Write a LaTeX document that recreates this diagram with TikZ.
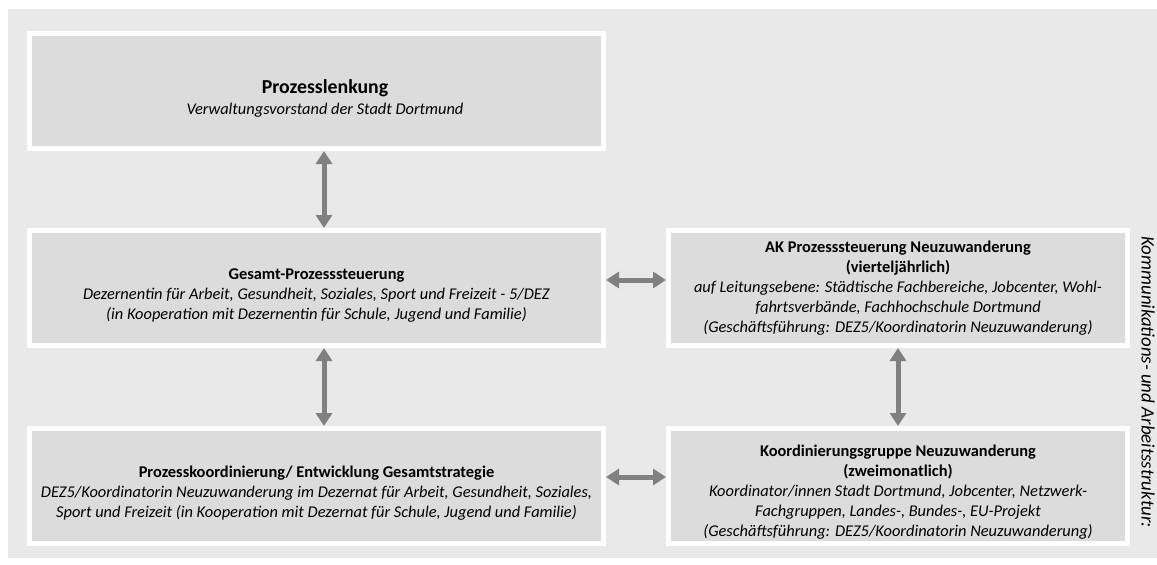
\documentclass[tikz,border=0pt]{standalone}
\usepackage{fontspec}
\setmainfont{Carlito}
\usetikzlibrary{arrows.meta}
\usepackage{xcolor}
\definecolor{backgray}{HTML}{E9E9E9}
\definecolor{panelgray}{HTML}{DCDCDC}
\definecolor{linkgray}{HTML}{808080}
\newcommand{\bodysize}{\fontsize{16.4}{20}\selectfont}

\begin{document}
\begin{tikzpicture}[x=1pt,y=-1pt,
  panel/.style={draw=white,line width=5pt,fill=panelgray,outer sep=2.5pt,
    minimum width=574pt,minimum height=115pt,inner sep=0pt},
  sidepanel/.style={panel,minimum width=459pt},
  paneltext/.style={inner sep=0pt,align=center,font=\bodysize},
  link/.style={draw=linkgray,line width=5pt,
    {Triangle[width=16pt,length=13pt]}-{Triangle[width=16pt,length=13pt]}}]
\useasboundingbox (0,0) rectangle (1157,565);
\fill[backgray] (8,9) rectangle (1157,558);

\node[panel] (lenkung) at (316.5,91) {};
\node[panel] (gesamt) at (316.5,288) {};
\node[panel] (strategie) at (316.5,486) {};
\node[sidepanel] (akreis) at (898,288) {};
\node[sidepanel] (gruppe) at (898,486) {};

\node[paneltext] (lenkung-text) at ([xshift=8.5pt,yshift=-7pt]lenkung.center)
  {{\fontsize{19.8}{22}\selectfont\bfseries Prozesslenkung}\\[1pt]
   \textit{Verwaltungsvorstand der Stadt Dortmund}};
\node[paneltext] (gesamt-text) at ([yshift=-8pt]gesamt.center)
  {\textbf{Gesamt-Prozesssteuerung}\\
   \textit{Dezernentin für Arbeit, Gesundheit, Soziales, Sport und Freizeit - 5/DEZ}\\
   \textit{(in Kooperation mit Dezernentin für Schule, Jugend und Familie)}};
\node[paneltext] (strategie-text) at ([yshift=-7pt]strategie.center)
  {\textbf{Prozesskoordinierung/ Entwicklung Gesamtstrategie}\\
   \textit{DEZ5/Koordinatorin Neuzuwanderung im Dezernat für Arbeit, Gesundheit, Soziales,}\\
   \textit{Sport und Freizeit (in Kooperation mit Dezernat für Schule, Jugend und Familie)}};
\node[paneltext] (akreis-text) at (akreis.center)
  {\textbf{AK Prozesssteuerung Neuzuwanderung}\\
   \textbf{(vierteljährlich)}\\
   \textit{auf Leitungsebene: Städtische Fachbereiche, Jobcenter, Wohl-}\\
   \textit{fahrtsverbände, Fachhochschule Dortmund}\\
   \textit{(Geschäftsführung: DEZ5/Koordinatorin Neuzuwanderung)}};
\node[paneltext] (gruppe-text) at ([yshift=-6pt]gruppe.center)
  {\textbf{Koordinierungsgruppe Neuzuwanderung}\\
   \textbf{(zweimonatlich)}\\
   \textit{Koordinator/innen Stadt Dortmund, Jobcenter, Netzwerk-}\\
   \textit{Fachgruppen, Landes-, Bundes-, EU-Projekt}\\
   \textit{(Geschäftsführung: DEZ5/Koordinatorin Neuzuwanderung)}};
\node[rotate=-90,font=\fontsize{18.9}{22}\selectfont\itshape] (struktur) at (1148,382)
  {Kommunikations- und Arbeitsstruktur:};

\draw[link] ([xshift=7.5pt]lenkung.south) -- ([xshift=7.5pt]gesamt.north);
\draw[link] ([xshift=7.5pt]gesamt.south) -- ([xshift=7.5pt]strategie.north);
\draw[link] ([yshift=8pt]gesamt.east) -- ([yshift=8pt]akreis.west);
\draw[link] ([yshift=9pt]strategie.east) -- ([yshift=9pt]gruppe.west);
\draw[link] (akreis.south) -- (gruppe.north);
\end{tikzpicture}
\end{document}
